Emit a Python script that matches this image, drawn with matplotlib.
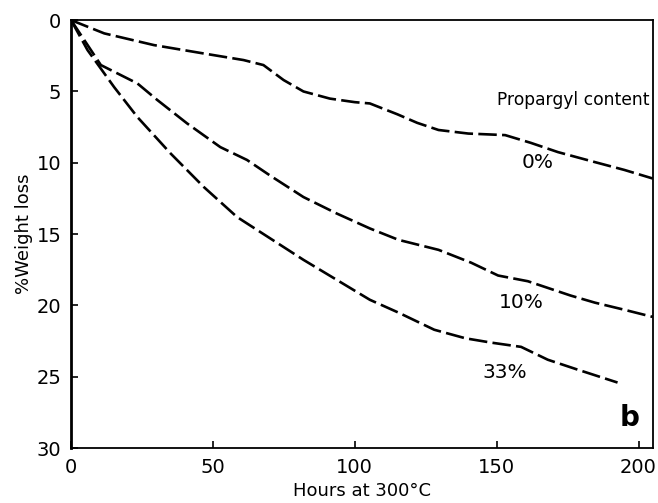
import matplotlib
matplotlib.use('Agg')
import matplotlib.pyplot as plt

# ---- 数据 ----
hours_0 = [0, 11.7, 29.2, 46.8, 60.8, 67.8, 74.9, 81.9, 91.2, 100, 105.3, 115, 122, 129.5, 140, 153, 162, 171.6, 184.6, 195, 205]
loss_0 = [0, 0.93, 1.75, 2.34, 2.8, 3.15, 4.2, 5.0, 5.5, 5.75, 5.84, 6.6, 7.2, 7.7, 7.95, 8.06, 8.6, 9.25, 9.95, 10.5, 11.1]

hours_10 = [0, 10.5, 23.4, 30.4, 40.9, 52.6, 62, 70.2, 81.9, 93.6, 105.3, 115.4, 129.5, 141, 150.5, 161, 176, 184.6, 195, 205]
loss_10 = [0, 3.15, 4.44, 5.6, 7.24, 8.9, 9.8, 10.9, 12.4, 13.55, 14.6, 15.4, 16.1, 17.0, 17.9, 18.3, 19.3, 19.8, 20.3, 20.8]

hours_33 = [0, 5.8, 15.2, 23.4, 35.1, 46.8, 58.5, 70.2, 81.9, 93.6, 105.3, 115.4, 128, 139, 148, 158.6, 168, 178.6, 192.6]
loss_33 = [0, 2.1, 4.7, 6.8, 9.35, 11.7, 13.8, 15.3, 16.8, 18.2, 19.6, 20.5, 21.7, 22.3, 22.6, 22.9, 23.8, 24.5, 25.4]

curve_labels = ['0%', '10%', '33%']
label_pos = [(164.6, 9.95), (158.6, 19.8), (153, 24.7)]

plt.rcParams['font.family'] = ['DejaVu Sans']

fig = plt.figure(figsize=(6.58, 5.03), dpi=100)
ax = fig.add_axes([0.108, 0.109, 0.884, 0.851])

for xs, ys in [(hours_0, loss_0), (hours_10, loss_10), (hours_33, loss_33)]:
    ax.plot(xs, ys, color='black', linewidth=1.9, linestyle=(0, (7, 2)), solid_capstyle='butt')

for txt, (x, y) in zip(curve_labels, label_pos):
    ax.text(x, y, txt, fontsize=14.5, ha='center', va='center')

ax.text(150, 5.6, 'Propargyl content', fontsize=12.3, ha='left', va='center')
ax.text(197, 27.9, 'b', fontsize=20, fontweight='bold', ha='center', va='center')

# ---- 坐标轴设置 ----
ax.set_xlim(0, 205)
ax.set_ylim(30, 0)
ax.set_xticks([0, 50, 100, 150, 200])
ax.set_yticks([0, 5, 10, 15, 20, 25, 30])
ax.tick_params(direction='in', length=5, width=1.2, labelsize=14, pad=7)
for sp in ax.spines.values():
    sp.set_linewidth(1.3)
ax.spines['left'].set_linewidth(2)

ax.set_xlabel('Hours at 300°C', fontsize=13)
ax.set_ylabel('%Weight loss', fontsize=13)
ax.xaxis.set_label_coords(0.5, -0.08)
ax.yaxis.set_label_coords(-0.066, 0.5)

fig.savefig('out.png', dpi=100)
